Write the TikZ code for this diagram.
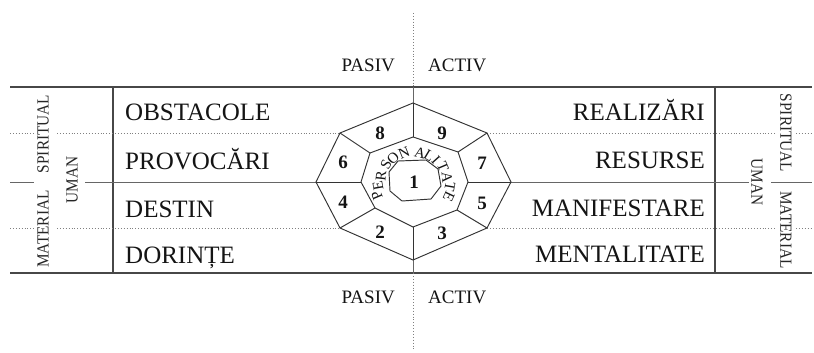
\documentclass[tikz,border=0pt]{standalone}
\usepackage{fontspec}
\setmainfont{Liberation Serif}
\begin{document}
\begin{tikzpicture}[x=1pt,y=-1pt,
  frame/.style={draw=black!72, line width=1.4pt},
  midln/.style={draw=black!60, line width=1pt},
  dotln/.style={draw=black!50, line width=0.9pt, dotted},
  oct/.style={draw=black!80, line width=0.95pt},
  rowtxt/.style={font=\fontsize{25}{25}\selectfont, text=black!92, inner sep=0pt},
  sidetxt/.style={font=\fontsize{17}{17}\selectfont, text=black!85, inner sep=0pt},
  patxt/.style={font=\fontsize{19}{19}\selectfont, text=black!92, inner sep=0pt},
  numtxt/.style={font=\fontsize{19}{19}\selectfont\bfseries, text=black!92, inner sep=0pt},
  lettxt/.style={font=\fontsize{15}{15}\selectfont, text=black!92, inner sep=0pt}]
\useasboundingbox (0,0) rectangle (814,353);
\fill[white] (0,0) rectangle (814,353);

% frame coordinates
\coordinate (tl) at (10,87);   \coordinate (tr) at (812,87);
\coordinate (bl) at (10,273);  \coordinate (br) at (812,273);
\coordinate (vlt) at (113,87); \coordinate (vlb) at (113,273);
\coordinate (vrt) at (715,87); \coordinate (vrb) at (715,273);
\coordinate (ct) at (413,13);  \coordinate (cT) at (413,87);
\coordinate (cB) at (413,273); \coordinate (cb) at (413,350);

% outer octagon
\coordinate (o1) at (413,103); \coordinate (o2) at (487,133);
\coordinate (o3) at (511,182); \coordinate (o4) at (487,228);
\coordinate (o5) at (413,260); \coordinate (o6) at (340,228);
\coordinate (o7) at (316,182); \coordinate (o8) at (340,133);
% middle octagon
\coordinate (m1) at (413,137); \coordinate (m2) at (458,152);
\coordinate (m3) at (468,182); \coordinate (m4) at (457,210);
\coordinate (m5) at (413,227); \coordinate (m6) at (375,208);
\coordinate (m7) at (361,182); \coordinate (m8) at (370,153);
% inner octagon
\coordinate (i1) at (398,161); \coordinate (i2) at (426,160);
\coordinate (i3) at (438,169); \coordinate (i4) at (441,186);
\coordinate (i5) at (431,199); \coordinate (i6) at (402,201);
\coordinate (i7) at (390,191); \coordinate (i8) at (389,172);

% frame lines
\draw[frame] (tl) -- (tr);
\draw[frame] (bl) -- (br);
\draw[frame] (vlt) -- (vlb);
\draw[frame] (vrt) -- (vrb);

% middle solid line
\coordinate (ml1) at (10,182);  \coordinate (ml2) at (34,182);
\coordinate (ml3) at (85,182);  \coordinate (mr1) at (749,182);
\coordinate (mr2) at (771,182); \coordinate (mr3) at (812,182);
\draw[midln] (ml1) -- (ml2);
\draw[midln] (ml3) -- (o7);
\draw[midln] (o3) -- (mr1);
\draw[midln] (mr2) -- (mr3);

% dotted lines
\coordinate (da1) at (10,133); \coordinate (da2) at (34,133); \coordinate (da3) at (57,133);
\coordinate (da4) at (776,133); \coordinate (da5) at (796,133); \coordinate (da6) at (812,133);
\coordinate (db1) at (10,228); \coordinate (db2) at (34,228); \coordinate (db3) at (57,228);
\coordinate (db4) at (776,228); \coordinate (db5) at (796,228); \coordinate (db6) at (812,228);
\draw[dotln] (da1) -- (da2);
\draw[dotln] (da3) -- (o8);
\draw[dotln] (o2) -- (da4);
\draw[dotln] (da5) -- (da6);
\draw[dotln] (db1) -- (db2);
\draw[dotln] (db3) -- (o6);
\draw[dotln] (o4) -- (db4);
\draw[dotln] (db5) -- (db6);

% central vertical line
\draw[dotln] (ct) -- (cT);
\draw[midln] (cT) -- (o1);
\draw[midln] (o5) -- (cB);
\draw[dotln] (cB) -- (cb);

% octagons
\draw[oct,fill=white] (o1) -- (o2) -- (o3) -- (o4) -- (o5) -- (o6) -- (o7) -- (o8) -- cycle;
\draw[oct] (m1) -- (m2) -- (m3) -- (m4) -- (m5) -- (m6) -- (m7) -- (m8) -- cycle;
\draw[oct] (i1) -- (i2) -- (i3) -- (i4) -- (i5) -- (i6) -- (i7) -- (i8) -- cycle;
\foreach \k in {1,...,8} { \draw[oct] (o\k) -- (m\k); }

% numbers
\node[numtxt] (n8) at (380,133) {8};
\node[numtxt] (n9) at (442,133) {9};
\node[numtxt] (n6) at (343,162) {6};
\node[numtxt] (n7) at (482,163) {7};
\node[numtxt] (n4) at (343,202) {4};
\node[numtxt] (n5) at (482,203) {5};
\node[numtxt] (n2) at (380,232) {2};
\node[numtxt] (n3) at (442,233) {3};
\node[numtxt] (n1) at (414,182) {1};

% PERSONALITATE letters
\node[lettxt, rotate=113]  (l1) at (377,196) {P};
\node[lettxt, rotate=100]  (l2) at (378,186) {E};
\node[lettxt, rotate=84]   (l3) at (381,176) {R};
\node[lettxt, rotate=62]   (l4) at (386,165) {S};
\node[lettxt, rotate=44]   (l5) at (393,158) {O};
\node[lettxt, rotate=22]   (l6) at (404,153) {N};
\node[lettxt, rotate=-14]  (l7) at (420,153) {A};
\node[lettxt, rotate=-31]  (l8) at (429,156) {L};
\node[lettxt, rotate=-48]  (l9) at (436,160) {I};
\node[lettxt, rotate=-67]  (l10) at (443,167) {T};
\node[lettxt, rotate=-85]  (l11) at (447,177) {A};
\node[lettxt, rotate=-100] (l12) at (450,187) {T};
\node[lettxt, rotate=-115] (l13) at (449,197) {E};

% row texts
\node[rowtxt, anchor=base west] (obs) at (125,121) {OBSTACOLE};
\node[rowtxt, anchor=base west] (pro) at (125,169) {PROVOCĂRI};
\node[rowtxt, anchor=base west] (des) at (125,217) {DESTIN};
\node[rowtxt, anchor=base west] (dor) at (125,263) {DORINȚE};
\node[rowtxt, anchor=base east] (rea) at (705,120) {REALIZĂRI};
\node[rowtxt, anchor=base east] (res) at (705,168) {RESURSE};
\node[rowtxt, anchor=base east] (man) at (705,216) {MANIFESTARE};
\node[rowtxt, anchor=base east] (men) at (705,262) {MENTALITATE};

% PASIV / ACTIV
\node[patxt, anchor=base east] (pas1) at (395,72) {PASIV};
\node[patxt, anchor=base west] (act1) at (428,72) {ACTIV};
\node[patxt, anchor=base east] (pas2) at (395,303) {PASIV};
\node[patxt, anchor=base west] (act2) at (428,303) {ACTIV};

% side labels
\node[sidetxt, rotate=90] (spl) at (43,134) {\scalebox{0.9}[1]{SPIRITUAL}};
\node[sidetxt, rotate=90] (mal) at (43,229) {\scalebox{0.9}[1]{MATERIAL}};
\node[sidetxt, rotate=90] (uml) at (72,180) {\scalebox{0.9}[1]{UMAN}};
\node[sidetxt, rotate=-90] (spr) at (786,133) {\scalebox{0.9}[1]{SPIRITUAL}};
\node[sidetxt, rotate=-90] (mar) at (786,230) {\scalebox{0.9}[1]{MATERIAL}};
\node[sidetxt, rotate=-90] (umr) at (757,182) {\scalebox{0.9}[1]{UMAN}};
\end{tikzpicture}
\end{document}
